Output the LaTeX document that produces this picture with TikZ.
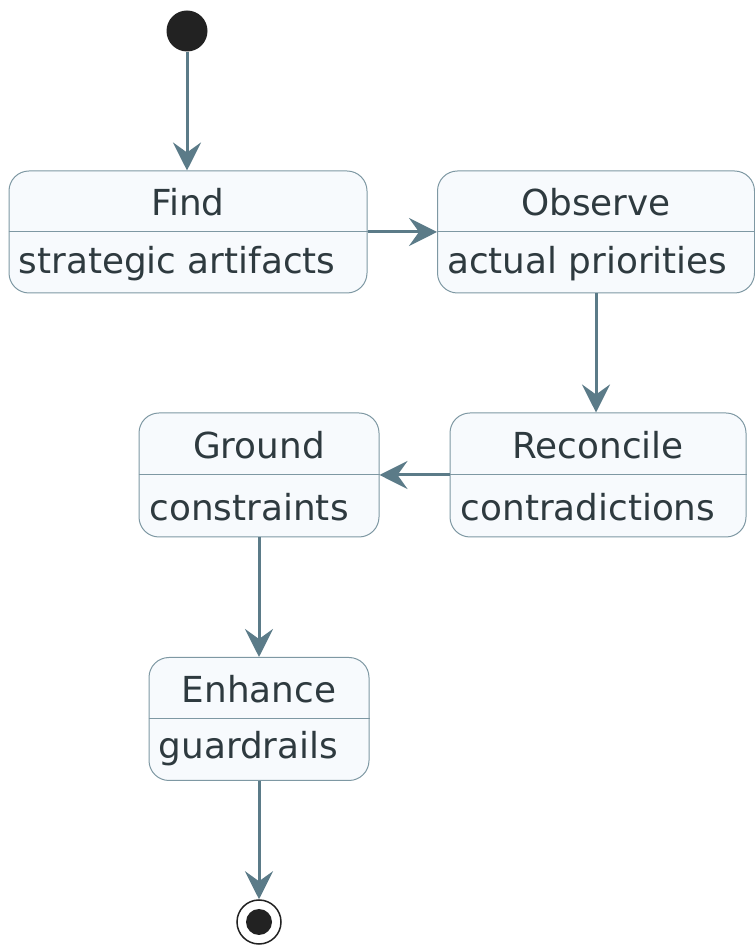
\documentclass[tikz,border=0pt]{standalone}
\usepackage{fontspec}
\setmainfont{DejaVu Sans}
\usetikzlibrary{calc,arrows.meta}

\definecolor{edgecol}{HTML}{5B7B88}
\definecolor{boxline}{HTML}{7E98A3}
\definecolor{boxfill}{HTML}{F7FAFD}
\definecolor{textcol}{HTML}{2E3A3F}
\definecolor{dotcol}{HTML}{222222}

\tikzset{
  state/.style={rectangle, rounded corners=20pt, draw=boxline, fill=boxfill, line width=1pt, inner sep=0pt},
  title/.style={text=textcol, font=\fontsize{35.8}{42}\selectfont, inner sep=0pt},
  body/.style={text=textcol, font=\fontsize{35.8}{42}\selectfont, inner sep=0pt, anchor=west},
  flow/.style={draw=edgecol, line width=3pt, -{Stealth[length=28pt, width=28pt, inset=10pt]}}
}

\begin{document}
\begin{tikzpicture}[x=1pt, y=1pt]
                \useasboundingbox (0,0) rectangle (755,948);
                \node[circle, fill=dotcol, minimum size=41pt, inner sep=0pt] (start) at (187,917) {};
                \node[state, minimum width=358pt, minimum height=122pt] (find) at (188,716) {};
                \node[state, minimum width=317pt, minimum height=122pt] (observe) at (596,716) {};
                \node[state, minimum width=296pt, minimum height=124pt] (reconcile) at (598,473) {};
                \node[state, minimum width=240pt, minimum height=124pt] (ground) at (259,473) {};
                \node[state, minimum width=220pt, minimum height=123pt] (enhance) at (259,229) {};
                \node[circle, draw=dotcol, line width=1.5pt, minimum size=44pt, inner sep=0pt] (stop) at (259,26) {};
                \node[circle, fill=dotcol, minimum size=26pt, inner sep=0pt] (stopdot) at (stop) {};
                % dividers
                \draw[boxline, line width=1pt] (find.west) -- (find.east);
                \draw[boxline, line width=1pt] (observe.west) -- (observe.east);
                \draw[boxline, line width=1pt] (reconcile.west) -- (reconcile.east);
                \draw[boxline, line width=1pt] (ground.west) -- (ground.east);
                \draw[boxline, line width=1pt] (enhance.west) -- (enhance.east);
                % texts
                \node[title] (findT) at ($(find.center)+(0,30)$) {Find};
                \node[body] (findB) at ($(find.west)+(10,-32)$) {strategic artifacts};
                \node[title] (observeT) at ($(observe.center)+(0,30)$) {Observe};
                \node[body] (observeB) at ($(observe.west)+(10,-32)$) {actual priorities};
                \node[title] (reconcileT) at ($(reconcile.center)+(0,30)$) {Reconcile};
                \node[body] (reconcileB) at ($(reconcile.west)+(11,-32)$) {contradictions};
                \node[title] (groundT) at ($(ground.center)+(0,30)$) {Ground};
                \node[body] (groundB) at ($(ground.west)+(11,-32)$) {constraints};
                \node[title] (enhanceT) at ($(enhance.center)+(0,30)$) {Enhance};
                \node[body] (enhanceB) at ($(enhance.west)+(10,-30)$) {guardrails};
                % transitions
                \draw[flow] (start.south) -- (start.south |- find.north);
                \draw[flow] (find.east) -- (observe.west);
                \draw[flow] (observe.south) -- (observe.south |- reconcile.north);
                \draw[flow] (reconcile.west) -- (ground.east);
                \draw[flow] (ground.south) -- (enhance.north);
                \draw[flow] (enhance.south) -- (stop.north);
            \end{tikzpicture}
\end{document}
